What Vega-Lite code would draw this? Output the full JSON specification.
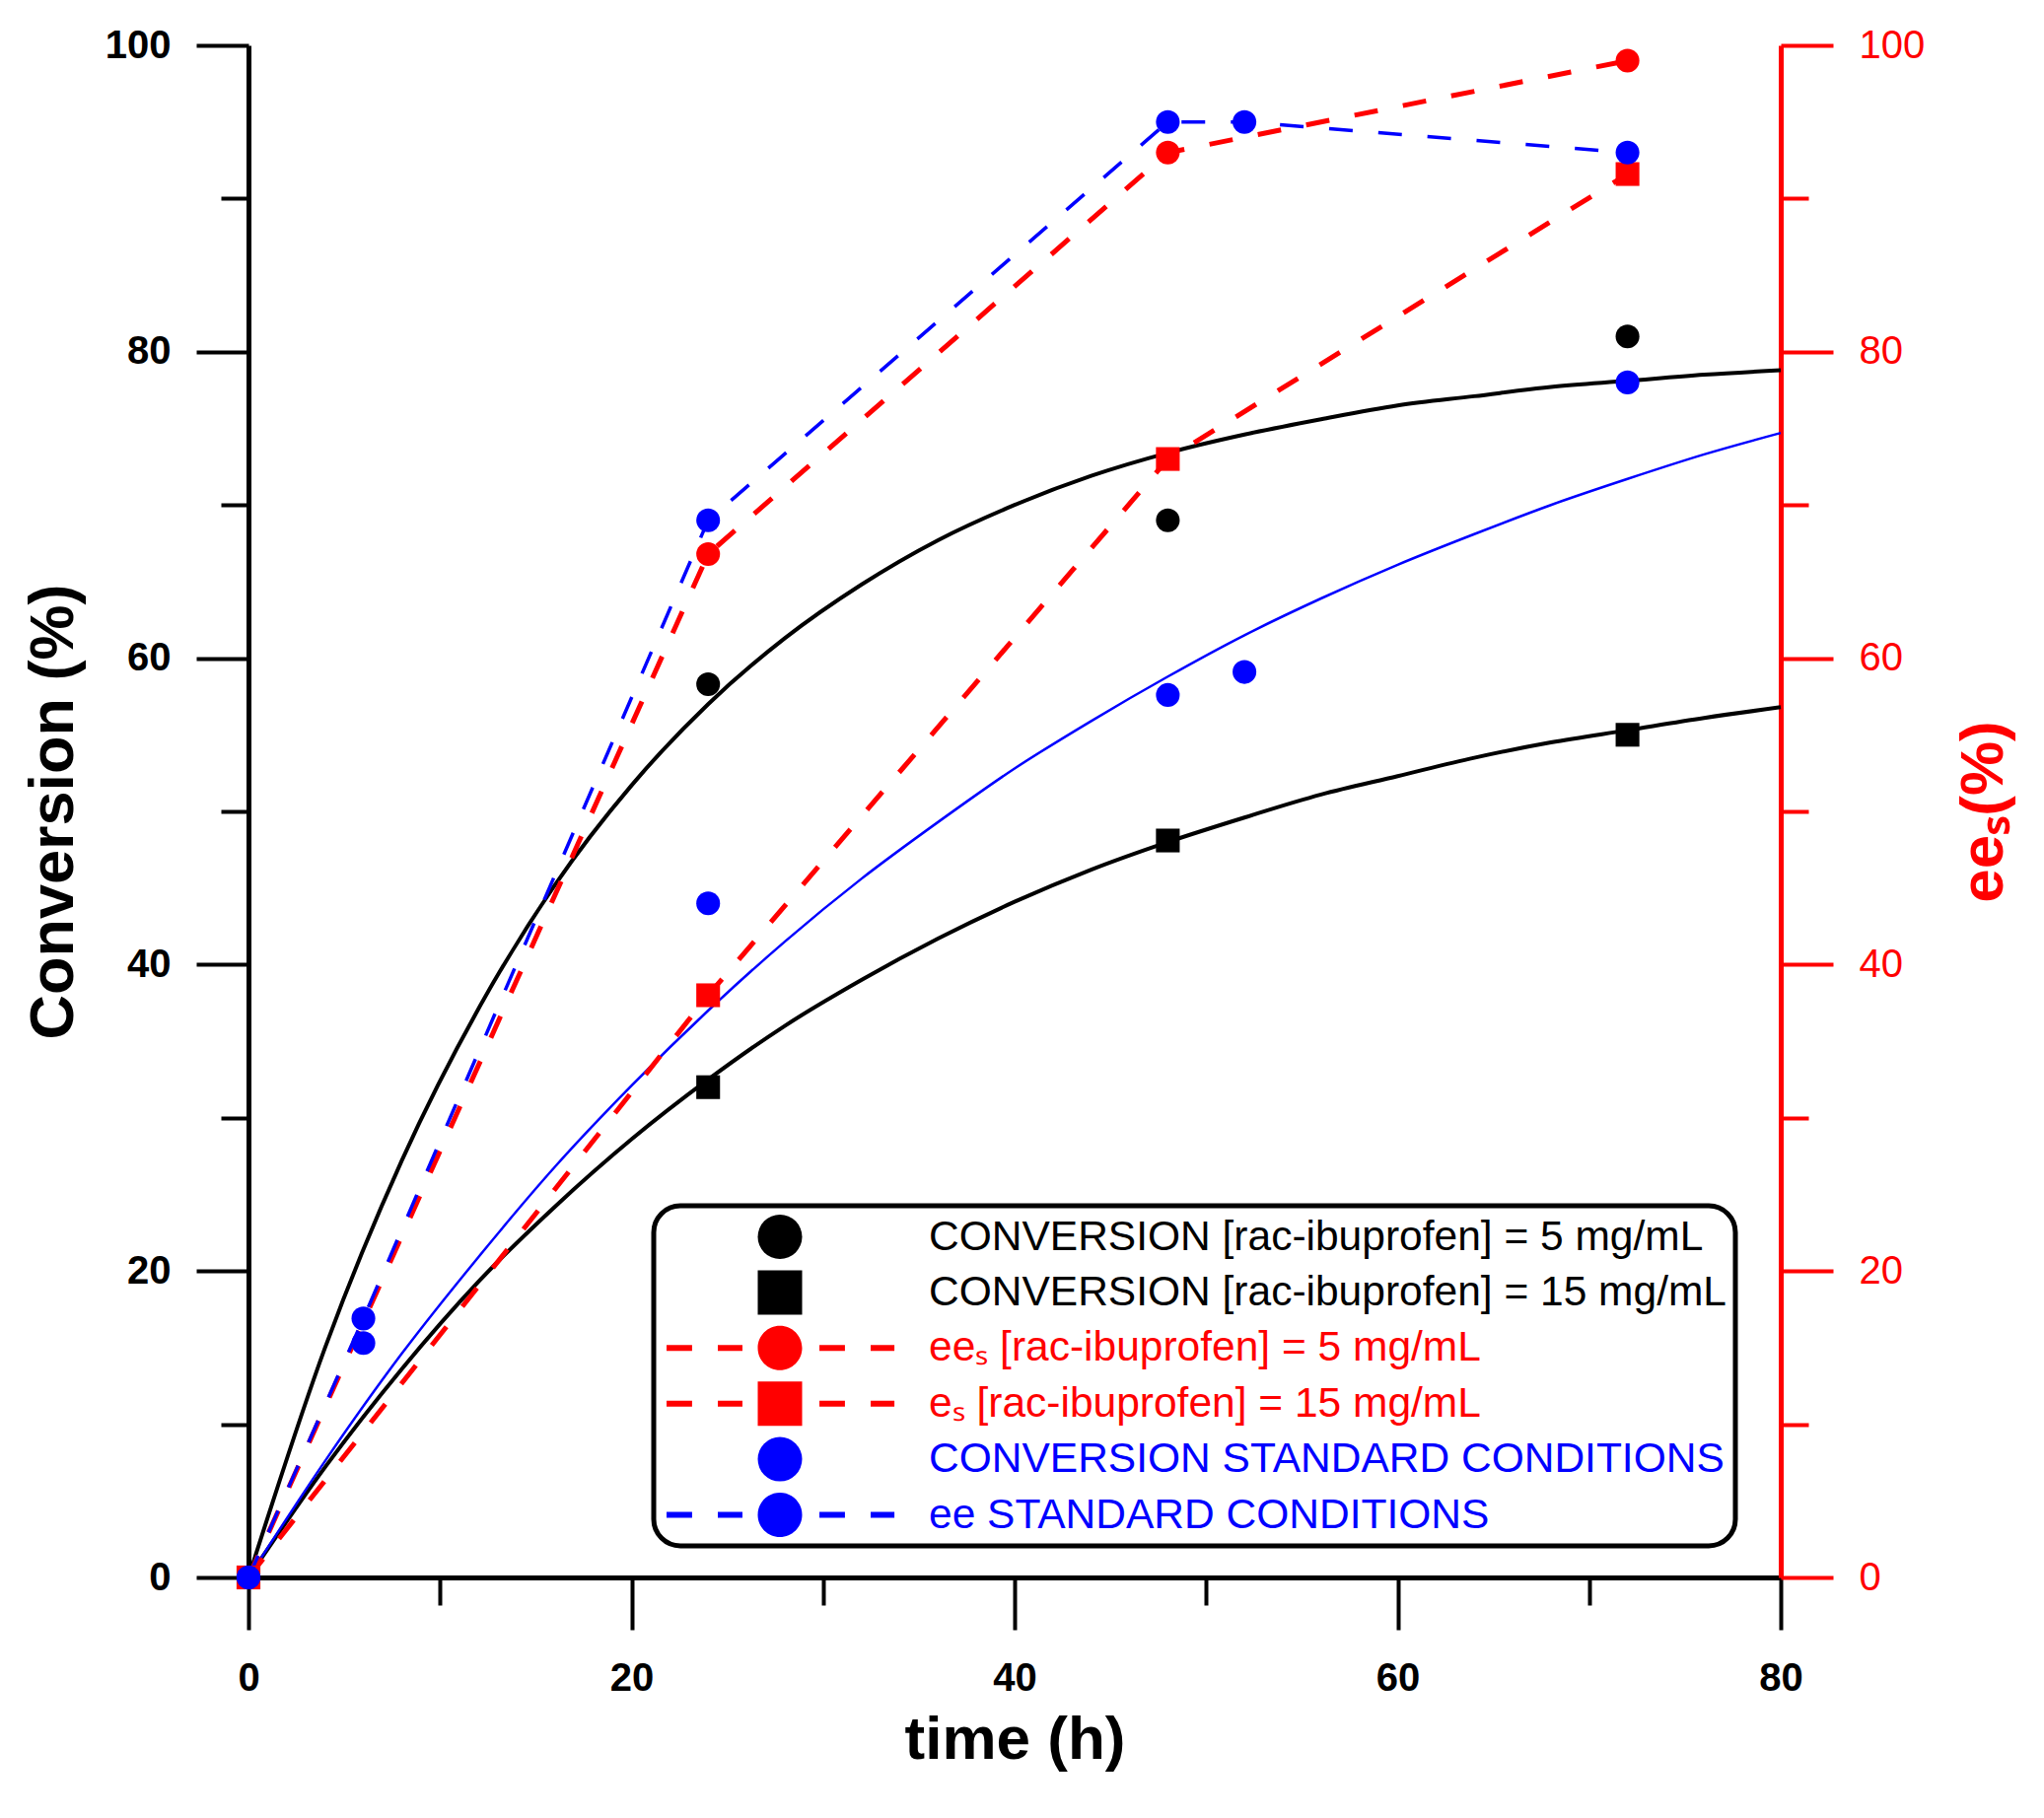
{
  "$schema": "https://vega.github.io/schema/vega-lite/v6.json",
  "width": 1554,
  "height": 1554,
  "autosize": {"type": "none"},
  "padding": {"left": 252, "top": 46, "right": 267, "bottom": 244},
  "background": "white",
  "config": {"view": {"stroke": null}, "font": "Liberation Sans", "axis": {"grid": false}, "legend": {"strokeWidth": 5}},
  "datasets": {
    "points": [
      {"series": "c5", "t": 0, "v": 0},
      {"series": "c5", "t": 24, "v": 58.3},
      {"series": "c5", "t": 48, "v": 69.0},
      {"series": "c5", "t": 72, "v": 81.0},
      {"series": "c15", "t": 0, "v": 0},
      {"series": "c15", "t": 24, "v": 32.0},
      {"series": "c15", "t": 48, "v": 48.1},
      {"series": "c15", "t": 72, "v": 55.0},
      {"series": "ee5", "t": 0, "v": 0},
      {"series": "ee5", "t": 24, "v": 66.8},
      {"series": "ee5", "t": 48, "v": 93.0},
      {"series": "ee5", "t": 72, "v": 99.0},
      {"series": "e15", "t": 0, "v": 0},
      {"series": "e15", "t": 24, "v": 38.0},
      {"series": "e15", "t": 48, "v": 73.0},
      {"series": "e15", "t": 72, "v": 91.6},
      {"series": "cstd", "t": 0, "v": 0},
      {"series": "cstd", "t": 6, "v": 15.3},
      {"series": "cstd", "t": 24, "v": 44.0},
      {"series": "cstd", "t": 48, "v": 57.6},
      {"series": "cstd", "t": 52, "v": 59.1},
      {"series": "cstd", "t": 72, "v": 78.0},
      {"series": "eestd", "t": 0, "v": 0},
      {"series": "eestd", "t": 6, "v": 16.9},
      {"series": "eestd", "t": 24, "v": 69.0},
      {"series": "eestd", "t": 48, "v": 95.0},
      {"series": "eestd", "t": 52, "v": 95.0},
      {"series": "eestd", "t": 72, "v": 93.0}
    ],
    "fits": [
      {"curve": "fit5", "t": 0, "v": 0}, {"curve": "fit5", "t": 4, "v": 15.0}, {"curve": "fit5", "t": 8, "v": 27.2},
      {"curve": "fit5", "t": 12, "v": 37.1}, {"curve": "fit5", "t": 16, "v": 45.2}, {"curve": "fit5", "t": 20, "v": 51.7},
      {"curve": "fit5", "t": 24, "v": 57.0}, {"curve": "fit5", "t": 28, "v": 61.3}, {"curve": "fit5", "t": 32, "v": 64.8},
      {"curve": "fit5", "t": 36, "v": 67.7}, {"curve": "fit5", "t": 40, "v": 70.0}, {"curve": "fit5", "t": 44, "v": 71.9},
      {"curve": "fit5", "t": 48, "v": 73.4}, {"curve": "fit5", "t": 52, "v": 74.6}, {"curve": "fit5", "t": 56, "v": 75.6},
      {"curve": "fit5", "t": 60, "v": 76.5}, {"curve": "fit5", "t": 64, "v": 77.1}, {"curve": "fit5", "t": 68, "v": 77.7},
      {"curve": "fit5", "t": 72, "v": 78.1}, {"curve": "fit5", "t": 76, "v": 78.5}, {"curve": "fit5", "t": 80, "v": 78.8},
      {"curve": "fit15", "t": 0, "v": 0}, {"curve": "fit15", "t": 4, "v": 7.2}, {"curve": "fit15", "t": 8, "v": 13.6},
      {"curve": "fit15", "t": 12, "v": 19.3}, {"curve": "fit15", "t": 16, "v": 24.2}, {"curve": "fit15", "t": 20, "v": 28.6},
      {"curve": "fit15", "t": 24, "v": 32.5}, {"curve": "fit15", "t": 28, "v": 36.0}, {"curve": "fit15", "t": 32, "v": 39.0},
      {"curve": "fit15", "t": 36, "v": 41.7}, {"curve": "fit15", "t": 40, "v": 44.1}, {"curve": "fit15", "t": 44, "v": 46.2},
      {"curve": "fit15", "t": 48, "v": 48.0}, {"curve": "fit15", "t": 52, "v": 49.6}, {"curve": "fit15", "t": 56, "v": 51.1},
      {"curve": "fit15", "t": 60, "v": 52.3}, {"curve": "fit15", "t": 64, "v": 53.5}, {"curve": "fit15", "t": 68, "v": 54.5},
      {"curve": "fit15", "t": 72, "v": 55.3}, {"curve": "fit15", "t": 76, "v": 56.1}, {"curve": "fit15", "t": 80, "v": 56.8},
      {"curve": "fitstd", "t": 0, "v": 0}, {"curve": "fitstd", "t": 4, "v": 7.6}, {"curve": "fitstd", "t": 8, "v": 14.6},
      {"curve": "fitstd", "t": 12, "v": 20.9}, {"curve": "fitstd", "t": 16, "v": 26.8}, {"curve": "fitstd", "t": 20, "v": 32.1},
      {"curve": "fitstd", "t": 24, "v": 37.0}, {"curve": "fitstd", "t": 28, "v": 41.5}, {"curve": "fitstd", "t": 32, "v": 45.6},
      {"curve": "fitstd", "t": 36, "v": 49.3}, {"curve": "fitstd", "t": 40, "v": 52.8}, {"curve": "fitstd", "t": 44, "v": 55.9},
      {"curve": "fitstd", "t": 48, "v": 58.8}, {"curve": "fitstd", "t": 52, "v": 61.5}, {"curve": "fitstd", "t": 56, "v": 63.9},
      {"curve": "fitstd", "t": 60, "v": 66.1}, {"curve": "fitstd", "t": 64, "v": 68.1}, {"curve": "fitstd", "t": 68, "v": 70.0},
      {"curve": "fitstd", "t": 72, "v": 71.7}, {"curve": "fitstd", "t": 76, "v": 73.3}, {"curve": "fitstd", "t": 80, "v": 74.7}
    ]
  },
  "layer": [
    {
      "data": {"name": "fits"},
      "transform": [{"filter": "datum.curve === 'fit5'"}],
      "mark": {"type": "line", "color": "black", "strokeWidth": 4, "interpolate": "monotone"},
      "encoding": {
        "x": {
          "field": "t", "type": "quantitative",
          "scale": {"domain": [0, 80], "nice": false, "zero": false},
          "axis": {
            "orient": "bottom",
            "values": [0, 10, 20, 30, 40, 50, 60, 70, 80],
            "labelExpr": "datum.value % 20 === 0 ? datum.label : ''",
            "tickSize": {"condition": {"test": "datum.value % 20 === 0", "value": 53}, "value": 28},
            "tickWidth": 4, "tickColor": "black", "domainWidth": 5, "domainColor": "black",
            "labelFont": "Liberation Sans", "labelFontWeight": "bold", "labelFontSize": 40, "labelColor": "black",
            "labelPadding": 29, "labelFlush": false, "labelOverlap": false,
            "title": "time (h)", "titleFont": "Liberation Sans", "titleFontSize": 62, "titleFontWeight": "bold",
            "titleColor": "black", "titlePadding": 12
          }
        },
        "y": {
          "field": "v", "type": "quantitative",
          "scale": {"domain": [0, 100], "nice": false, "zero": false},
          "axis": {
            "orient": "left",
            "values": [0, 10, 20, 30, 40, 50, 60, 70, 80, 90, 100],
            "labelExpr": "datum.value % 20 === 0 ? datum.label : ''",
            "tickSize": {"condition": {"test": "datum.value % 20 === 0", "value": 53}, "value": 28},
            "tickWidth": 4, "tickColor": "black", "domainWidth": 5, "domainColor": "black",
            "labelFont": "Liberation Sans", "labelFontWeight": "bold", "labelFontSize": 40, "labelColor": "black",
            "labelPadding": 26, "labelFlush": false, "labelOverlap": false,
            "title": "Conversion (%)", "titleFont": "Liberation Sans", "titleFontSize": 63, "titleFontWeight": "bold",
            "titleColor": "black", "titlePadding": 20
          }
        }
      }
    },
    {
      "data": {"name": "fits"},
      "transform": [{"filter": "datum.curve === 'fit15'"}],
      "mark": {"type": "line", "color": "black", "strokeWidth": 4, "interpolate": "monotone"},
      "encoding": {
        "x": {"field": "t", "type": "quantitative", "axis": null},
        "y": {"field": "v", "type": "quantitative", "axis": null}
      }
    },
    {
      "data": {"name": "fits"},
      "transform": [{"filter": "datum.curve === 'fitstd'"}],
      "mark": {"type": "line", "color": "#0000ff", "strokeWidth": 2.5, "interpolate": "monotone"},
      "encoding": {
        "x": {"field": "t", "type": "quantitative", "axis": null},
        "y": {"field": "v", "type": "quantitative", "axis": null}
      }
    },
    {
      "data": {"name": "points"},
      "transform": [{"filter": "datum.series === 'ee5' || datum.series === 'e15'"}],
      "mark": {"type": "line", "color": "#ff0000", "strokeWidth": 5, "strokeDash": [24, 26], "strokeCap": "butt"},
      "encoding": {
        "x": {"field": "t", "type": "quantitative", "axis": null},
        "y": {
          "field": "v", "type": "quantitative",
          "axis": {
            "orient": "right",
            "values": [0, 10, 20, 30, 40, 50, 60, 70, 80, 90, 100],
            "labelExpr": "datum.value % 20 === 0 ? datum.label : ''",
            "tickSize": {"condition": {"test": "datum.value % 20 === 0", "value": 53}, "value": 28},
            "tickWidth": 4, "tickColor": "#ff0000", "domainWidth": 5, "domainColor": "#ff0000",
            "labelFont": "Liberation Sans", "labelFontWeight": "normal", "labelFontSize": 40, "labelColor": "#ff0000",
            "labelPadding": 26, "labelFlush": false, "labelOverlap": false,
            "title": "eeₛ(%)", "titleFont": "Liberation Sans", "titleFontSize": 62, "titleFontWeight": "bold",
            "titleColor": "#ff0000", "titlePadding": 30, "titleAngle": 270, "titleBaseline": "top"
          }
        },
        "detail": {"field": "series"}
      }
    },
    {
      "data": {"name": "points"},
      "transform": [{"filter": "datum.series === 'eestd'"}],
      "mark": {"type": "line", "color": "#0000ff", "strokeWidth": 3.5, "strokeDash": [24, 26], "strokeCap": "butt"},
      "encoding": {
        "x": {"field": "t", "type": "quantitative", "axis": null},
        "y": {"field": "v", "type": "quantitative", "axis": null}
      }
    },
    {
      "data": {"name": "points"},
      "mark": {"type": "point", "filled": true, "opacity": 1, "size": 580, "strokeWidth": 0},
      "encoding": {
        "x": {"field": "t", "type": "quantitative", "axis": null},
        "y": {"field": "v", "type": "quantitative", "axis": null},
        "shape": {
          "field": "series", "type": "nominal", "legend": null,
          "scale": {
            "domain": ["c5", "c15", "ee5", "e15", "cstd", "eestd"],
            "range": ["circle", "square", "circle", "square", "circle", "circle"]
          }
        },
        "color": {
          "field": "series", "type": "nominal", "legend": null,
          "scale": {
            "domain": ["c5", "c15", "ee5", "e15", "cstd", "eestd"],
            "range": ["#000000", "#000000", "#ff0000", "#ff0000", "#0000ff", "#0000ff"]
          }
        }
      }
    },
    {
      "data": {"name": "points"},
      "transform": [{"filter": "datum.t === 0"}],
      "mark": {"type": "point", "filled": true, "opacity": 1, "size": 0, "strokeWidth": 0},
      "encoding": {
        "x": {"field": "t", "type": "quantitative", "axis": null},
        "y": {"field": "v", "type": "quantitative", "axis": null},
        "shape": {
          "field": "series", "type": "nominal",
          "scale": {
            "domain": ["c5", "c15", "ee5", "e15", "cstd", "eestd"],
            "range": [
              "circle",
              "square",
              "M-1,0A1,1,0,1,1,1,0A1,1,0,1,1,-1,0Z M-5.11,-0.133L-3.96,-0.133L-3.96,0.133L-5.11,0.133Z M-2.8,-0.133L-1.69,-0.133L-1.69,0.133L-2.8,0.133Z M1.78,-0.133L2.93,-0.133L2.93,0.133L1.78,0.133Z M4.09,-0.133L5.16,-0.133L5.16,0.133L4.09,0.133Z",
              "M-1,-1L1,-1L1,1L-1,1Z M-5.11,-0.133L-3.96,-0.133L-3.96,0.133L-5.11,0.133Z M-2.8,-0.133L-1.69,-0.133L-1.69,0.133L-2.8,0.133Z M1.78,-0.133L2.93,-0.133L2.93,0.133L1.78,0.133Z M4.09,-0.133L5.16,-0.133L5.16,0.133L4.09,0.133Z",
              "circle",
              "M-1,0A1,1,0,1,1,1,0A1,1,0,1,1,-1,0Z M-5.11,-0.133L-3.96,-0.133L-3.96,0.133L-5.11,0.133Z M-2.8,-0.133L-1.69,-0.133L-1.69,0.133L-2.8,0.133Z M1.78,-0.133L2.93,-0.133L2.93,0.133L1.78,0.133Z M4.09,-0.133L5.16,-0.133L5.16,0.133L4.09,0.133Z"
            ]
          }
        },
        "color": {
          "field": "series", "type": "nominal",
          "scale": {
            "domain": ["c5", "c15", "ee5", "e15", "cstd", "eestd"],
            "range": ["#000000", "#000000", "#ff0000", "#ff0000", "#0000ff", "#0000ff"]
          },
          "legend": {
            "orient": "none", "legendX": 411, "legendY": 1177, "direction": "vertical",
            "title": null, "padding": 9, "cornerRadius": 27, "strokeColor": "black", "fillColor": "white",
            "labelFont": "Liberation Sans", "labelFontSize": 42.5, "labelLimit": 3000, "labelColor": "black",
            "rowPadding": 11.4, "symbolSize": 2025, "symbolStrokeWidth": 0, "symbolOffset": 96.5, "labelOffset": 128.5,
            "symbolOpacity": 1,
            "labelExpr": "datum.value === 'c5' ? 'CONVERSION [rac-ibuprofen] = 5 mg/mL' : datum.value === 'c15' ? 'CONVERSION [rac-ibuprofen] = 15 mg/mL' : datum.value === 'ee5' ? 'eeₛ [rac-ibuprofen] = 5 mg/mL' : datum.value === 'e15' ? 'eₛ [rac-ibuprofen] = 15 mg/mL' : datum.value === 'cstd' ? 'CONVERSION STANDARD CONDITIONS' : 'ee STANDARD CONDITIONS'",
            "encode": {
              "labels": {
                "update": {
                  "fill": {"signal": "datum.index < 2 ? '#000000' : datum.index < 4 ? '#ff0000' : '#0000ff'"}
                }
              }
            }
          }
        }
      }
    }
  ],
  "resolve": {
    "scale": {"color": "independent", "shape": "independent"},
    "axis": {"x": "independent", "y": "independent"}
  }
}
